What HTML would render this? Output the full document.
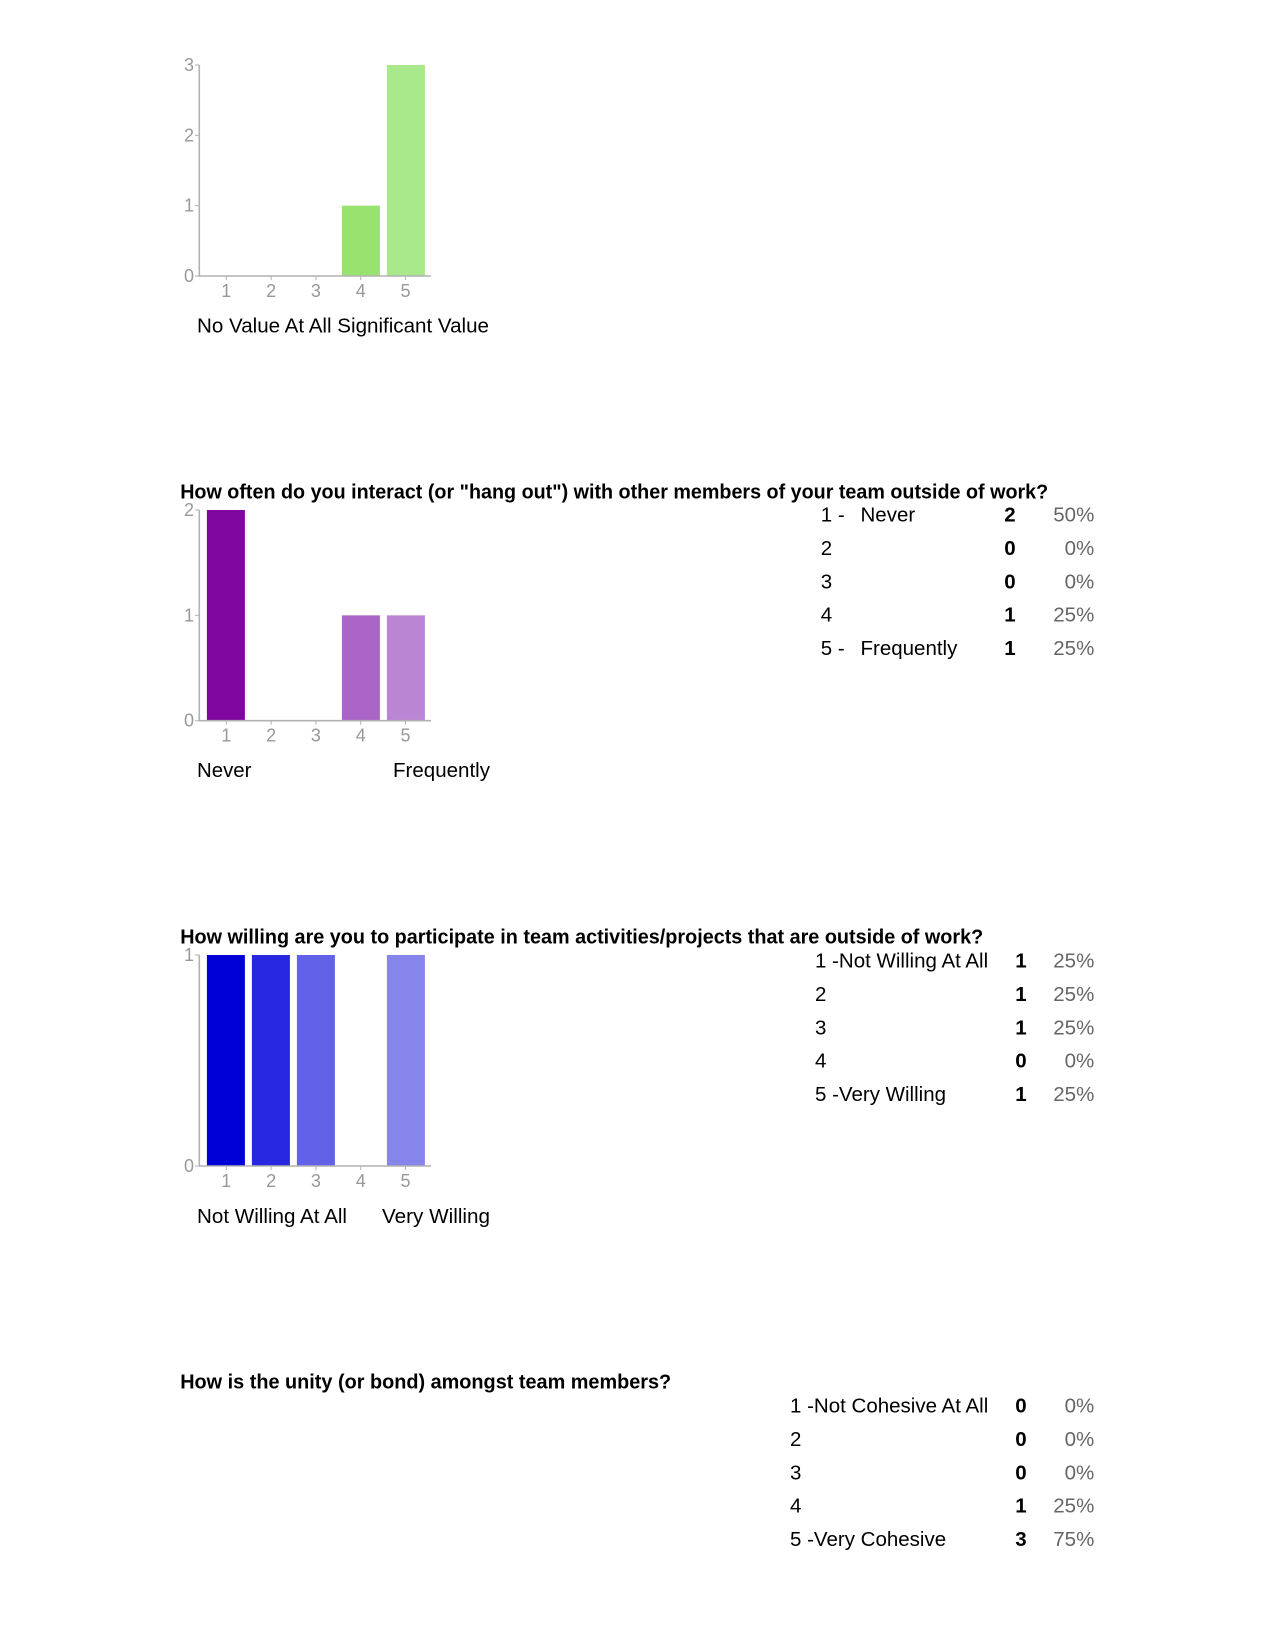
<!DOCTYPE html>
<html lang="en">
<head>
<meta charset="utf-8">
<title>Team survey results</title>
<style>
html,body{margin:0;padding:0;background:#fff;}
svg{display:block;}
text{font-family:"Liberation Sans",sans-serif;}
.title{font-size:20px;font-weight:700;fill:#000;}
.anchor{font-size:20.4px;fill:#000;}
.tick{font-size:18px;fill:#999;}
.row{font-size:20.5px;fill:#000;}
.count{font-size:20.5px;font-weight:700;fill:#000;text-anchor:middle;}
.pct{font-size:20.5px;fill:#666;text-anchor:end;}
</style>
</head>
<body>
<svg id="page" xmlns="http://www.w3.org/2000/svg" width="1275" height="1650" viewBox="0 0 1275 1650">
  <rect x="0" y="0" width="1275" height="1650" fill="#ffffff"/>

  <text class="anchor" x="197" y="332.7" textLength="292" lengthAdjust="spacingAndGlyphs">No Value At All Significant Value</text>

  <text class="title" x="180.2" y="498.3" textLength="868" lengthAdjust="spacingAndGlyphs">How often do you interact (or "hang out") with other members of your team outside of work?</text>
  <text class="anchor" x="197" y="777">Never</text>
  <text class="anchor" x="393" y="777" textLength="97" lengthAdjust="spacingAndGlyphs">Frequently</text>

  <text class="title" x="180.2" y="943.3" textLength="803" lengthAdjust="spacingAndGlyphs">How willing are you to participate in team activities/projects that are outside of work?</text>
  <text class="anchor" x="197" y="1222.8" textLength="150" lengthAdjust="spacingAndGlyphs">Not Willing At All</text>
  <text class="anchor" x="382" y="1222.8" textLength="108" lengthAdjust="spacingAndGlyphs">Very Willing</text>

  <text class="title" x="180.2" y="1388.3" textLength="491" lengthAdjust="spacingAndGlyphs">How is the unity (or bond) amongst team members?</text>
</svg>
<script>
// Chart data
const categories = ['1', '2', '3', '4', '5'];
const valueSeries = [0, 0, 0, 1, 3];
const valueTicks = [0, 1, 2, 3];
const interactSeries = [2, 0, 0, 1, 1];
const interactTicks = [0, 1, 2];
const willingSeries = [1, 1, 1, 0, 1];
const willingTicks = [0, 1];
const unitySeries = [0, 0, 0, 1, 3];

// Bar colours
const greenShades = ['#77dd44', '#84df58', '#8de065', '#98e26f', '#a9e88b'];
const purpleShades = ['#8006a0', '#8f2bae', '#9d47ba', '#aa65c6', '#ba85d2'];
const blueShades = ['#0000d6', '#2727e0', '#6262e8', '#7575ea', '#8585ec'];

// Table text
const interactPrefixes = ['1 -', '2', '3', '4', '5 -'];
const interactNames = ['Never', '', '', '', 'Frequently'];
const willingRows = ['1 -Not Willing At All', '2', '3', '4', '5 -Very Willing'];
const unityRows = ['1 -Not Cohesive At All', '2', '3', '4', '5 -Very Cohesive'];

const svg = document.getElementById('page');
const NS = 'http://www.w3.org/2000/svg';

function make(tag, props, text) {
  const el = document.createElementNS(NS, tag);
  for (const key in props) el.setAttribute(key, props[key]);
  if (text !== undefined) el.textContent = text;
  svg.appendChild(el);
  return el;
}

function sum(list) {
  return list.reduce(function (a, b) { return a + b; }, 0);
}

function barX(i) { return 206.9 + 45 * i; }
function tickX(i) { return 226.3 + 44.8 * i; }

function drawChart(slug, values, ticks, shades, top, base) {
  const maxTick = ticks[ticks.length - 1];
  const yOf = function (v) { return base - (v / maxTick) * (base - top); };

  values.forEach(function (v, i) {
    if (v <= 0) return;
    const bar = make('rect', { x: barX(i), y: yOf(v), width: 38, height: base - yOf(v), fill: shades[i] });
    
    
  });

  const yAxis = make('line', { x1: 199.3, x2: 199.3, y1: top, y2: base + 0.8, stroke: '#b2b2b2', 'stroke-width': 1.6 });
  
  

  const xAxis = make('line', { x1: 199.3, x2: 431, y1: base, y2: base, stroke: '#b2b2b2', 'stroke-width': 1.6 });
  
  

  ticks.forEach(function (t) {
    const y = yOf(t);
    const mark = make('line', { x1: 195, x2: 199.3, y1: y, y2: y, stroke: '#b2b2b2', 'stroke-width': 1 });
    
    
    const label = make('text', { class: 'tick', x: 194, y: y + 6, 'text-anchor': 'end' }, String(t));
    
    
  });

  categories.forEach(function (c, i) {
    const x = tickX(i);
    const mark = make('line', { x1: x, x2: x, y1: base, y2: base + 4, stroke: '#b2b2b2', 'stroke-width': 1 });
    
    
    const label = make('text', { class: 'tick', x: x, y: base + 21, 'text-anchor': 'middle' }, c);
    
    
  });
}

function drawCounts(slug, values, firstY, countX) {
  const total = sum(values);
  values.forEach(function (v, i) {
    const y = firstY + 33.3 * i;
    const count = make('text', { class: 'count', x: countX, y: y }, String(v));
    
    
    const pct = make('text', { class: 'pct', x: 1094.3, y: y }, Math.round(v / total * 100) + '%');
    
    
  });
}

function drawRowLabels(slug, rows, firstY, startX) {
  rows.forEach(function (r, i) {
    const label = make('text', { class: 'row', x: startX, y: firstY + 33.3 * i }, r);
    
    
  });
}

drawChart('value', valueSeries, valueTicks, greenShades, 65, 276);
drawChart('interaction', interactSeries, interactTicks, purpleShades, 510, 720.7);
drawChart('willingness', willingSeries, willingTicks, blueShades, 955, 1166);

drawRowLabels('interaction', interactPrefixes, 521.7, 820.8);
drawRowLabels('interaction-name', interactNames, 521.7, 860.5);
drawCounts('interaction', interactSeries, 521.7, 1010);

drawRowLabels('willingness', willingRows, 967.7, 815);
drawCounts('willingness', willingSeries, 967.7, 1021);

drawRowLabels('unity', unityRows, 1412.7, 790);
drawCounts('unity', unitySeries, 1412.7, 1021);
</script>
</body>
</html>
